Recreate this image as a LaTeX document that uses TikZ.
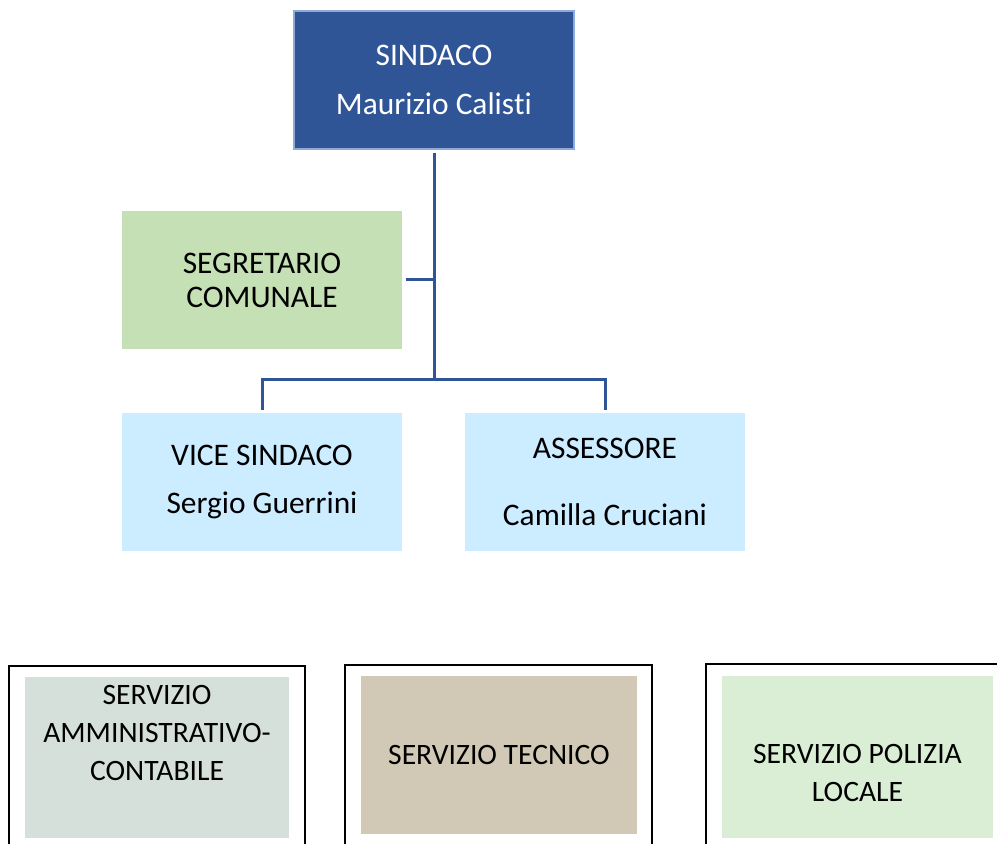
\documentclass[tikz,border=0pt]{standalone}
\usepackage{fontspec}
\setmainfont[Ligatures={NoCommon,NoRare}]{Carlito}
\definecolor{sindblu}{HTML}{2F5597}
\definecolor{sindbordo}{HTML}{8FA9DA}
\definecolor{linea}{HTML}{2F5597}
\definecolor{segverde}{HTML}{C5E0B4}
\definecolor{viceazz}{HTML}{CCECFF}
\definecolor{ammgrigio}{HTML}{D5E0DB}
\definecolor{tecbeige}{HTML}{D1C9B6}
\definecolor{polverde}{HTML}{DAEED5}

\begin{document}
\begin{tikzpicture}[x=0.5pt,y=-0.5pt,
    box/.style={rectangle,inner sep=0pt,align=center,minimum width=140pt,minimum height=69pt,font=\fontsize{15.7}{19}\selectfont},
    cornice/.style={rectangle,draw=black,line width=0.6pt,fill=white,inner sep=0pt,minimum height=102pt},
    servbox/.style={box,minimum height=80pt,font=\fontsize{14.8}{19}\selectfont},
    conn/.style={draw=linea,line width=1.5pt}]
          \useasboundingbox (0,0) rectangle (997,844);
          \clip (0,0) rectangle (997,844);
          \coordinate (bus) at (434,380);
          \node[box, fill=sindblu, draw=sindbordo, line width=0.6pt, text=white] (sindaco) at (434,80) {SINDACO\\[5.5pt]Maurizio Calis\kern0pt ti};
          \node[box, fill=segverde] (segretario) at (262,280) {SEGRETARIO\\[-2pt]COMUNALE};
          \node[box, fill=viceazz] (vice) at (262,482) {VICE SINDACO\\[5pt]Sergio Guerrini};
          \node[box, fill=viceazz] (assessore) at (605,482) {ASSESSORE\\[14.5pt]Camilla Cruciani};
          \draw[conn] ([yshift=-1.5pt]sindaco.south) -- (bus);
          \draw[conn] ([xshift=2pt]segretario.east) -- (segretario.east -| bus);
          \draw[conn] ([yshift=1.5pt]vice.north) |- (bus) -| ([yshift=1.5pt]assessore.north);
          \node[cornice, minimum width=148pt] (cornice1) at (157,768) {};
          \node[cornice, minimum width=153.5pt] (cornice2) at (498.5,767) {};
          \node[cornice, minimum width=152pt] (cornice3) at (858,766) {};
          \node[servbox, fill=ammgrigio, minimum width=132pt, minimum height=80.5pt] (amm) at (157,757.5) {};
          \node[servbox, fill=tecbeige, minimum width=138pt, minimum height=79pt] (tecnico) at (499,755) {SERVIZIO TECNICO};
          \node[servbox, fill=polverde, minimum width=135.5pt, minimum height=81pt] (polizia) at (857.5,757) {};
          \node[servbox, minimum height=0pt, minimum width=0pt] (ammtesto) at ([yshift=12.25pt]amm.center) {SERVIZIO\\AMMINISTRATIVO-\\CONTABILE};
          \node[servbox, minimum height=0pt, minimum width=0pt] (politesto) at ([yshift=-7.75pt]polizia.center) {SERVIZIO POLIZIA\\LOCALE};
        \end{tikzpicture}
\end{document}
